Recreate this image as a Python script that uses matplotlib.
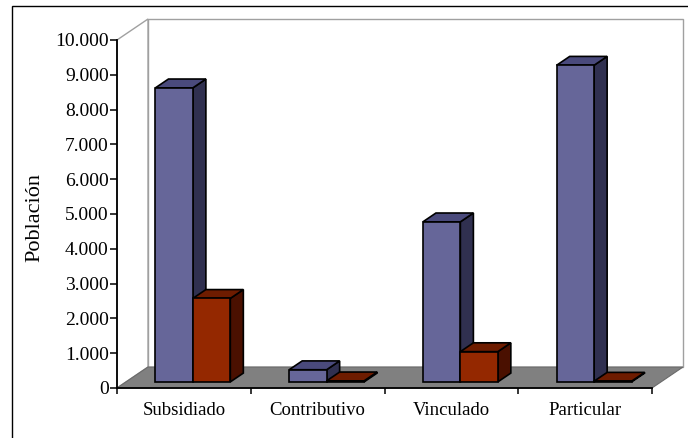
import matplotlib
matplotlib.use("Agg")
import matplotlib.pyplot as plt
from matplotlib.patches import Polygon, Rectangle
from matplotlib.ticker import FuncFormatter, FixedLocator

# ---- data ----
categories = ["Subsidiado", "Contributivo", "Vinculado", "Particular"]
serie_azul = [8450, 350, 4600, 9100]
serie_roja = [2400, 30, 870, 20]
y_ticks = [0, 1000, 2000, 3000, 4000, 5000, 6000, 7000, 8000, 9000, 10000]
y_label = "Población"

# ---- style ----
FONT = "Liberation Serif"
W, H = 688, 438
fig = plt.figure(figsize=(W / 100, H / 100), dpi=100)
fig.patch.set_facecolor("white")

# front plane of the 3D plot (pixel box 117..652 x, 40..388 y)
x0p, x1p, y0p, y1p = 117, 652, 40, 388
ax = fig.add_axes([x0p / W, 1 - y1p / H, (x1p - x0p) / W, (y1p - y0p) / H])
ax.set_xlim(0, len(categories))
ax.set_ylim(0, 10000)
ax.set_facecolor("none")

# depth offsets (pixels -> data units)
px_x = (x1p - x0p) / len(categories)
px_y = (y1p - y0p) / 10000
DX = 31 / px_x
DY = 21 / px_y

wall_edge = "#a0a0a0"
# back wall
ax.add_patch(Polygon([(DX, DY), (len(categories) + DX, DY),
                      (len(categories) + DX, 10000 + DY), (DX, 10000 + DY)],
                     closed=True, facecolor="white", edgecolor=wall_edge,
                     lw=1.0, clip_on=False, zorder=0))
# left wall
ax.add_patch(Polygon([(0, 0), (DX, DY), (DX, 10000 + DY), (0, 10000)],
                     closed=True, facecolor="white", edgecolor=wall_edge,
                     lw=1.0, clip_on=False, zorder=0.5))
# floor
ax.add_patch(Polygon([(0, 0), (len(categories), 0),
                      (len(categories) + DX, DY), (DX, DY)],
                     closed=True, facecolor="#808080", edgecolor="#6a6a6a",
                     lw=0.8, clip_on=False, zorder=1))

bar_w = 0.28
d0, d1 = 0.29, 0.71


def bar3d(xl, v, front, top, side):
    xr = xl + bar_w
    fx0, fy0 = d0 * DX, d0 * DY
    bx, by = d1 * DX, d1 * DY
    kw = dict(closed=True, edgecolor="black", lw=1.2, clip_on=False, zorder=3,
              joinstyle="miter")
    ax.add_patch(Polygon([(xr + fx0, fy0), (xr + bx, by), (xr + bx, v + by),
                          (xr + fx0, v + fy0)], facecolor=side, **kw))
    ax.add_patch(Polygon([(xl + fx0, v + fy0), (xr + fx0, v + fy0),
                          (xr + bx, v + by), (xl + bx, v + by)], facecolor=top, **kw))
    ax.add_patch(Polygon([(xl + fx0, fy0), (xr + fx0, fy0), (xr + fx0, v + fy0),
                          (xl + fx0, v + fy0)], facecolor=front, **kw))


for i, (b, r) in enumerate(zip(serie_azul, serie_roja)):
    c = i + 0.5
    bar3d(c - bar_w, b, "#666699", "#4a4a7c", "#303050")
    bar3d(c, r, "#942800", "#6e1c00", "#4a1000")

# axes / ticks
for s in ["top", "right"]:
    ax.spines[s].set_visible(False)
for s in ["left", "bottom"]:
    ax.spines[s].set_color("black")
    ax.spines[s].set_linewidth(1.3)
    ax.spines[s].set_zorder(5)

ax.set_yticks(y_ticks)
ax.yaxis.set_major_formatter(FuncFormatter(lambda v, p: f"{int(v):,}".replace(",", ".")))
ax.tick_params(axis="y", direction="out", length=5, width=1.1, pad=1,
               labelsize=14, colors="black")
ax.xaxis.set_major_locator(FixedLocator(list(range(len(categories) + 1))))
ax.xaxis.set_minor_locator(FixedLocator([i + 0.5 for i in range(len(categories))]))
ax.xaxis.set_major_formatter(FuncFormatter(lambda v, p: ""))
ax.set_xticklabels(categories, minor=True)
ax.tick_params(axis="x", which="major", direction="out", length=4, width=1.1)
ax.tick_params(axis="x", which="minor", length=0, pad=10, labelsize=13.5)
for lab in ax.get_yticklabels() + ax.get_xticklabels(minor=True):
    lab.set_fontfamily(FONT)

ax.set_ylabel(y_label, fontfamily=FONT, fontsize=16)
ax.yaxis.set_label_coords(-0.136, 0.49)

# outer border (cropped at right and bottom)
fig.add_artist(Rectangle((12 / W, -0.2), 1.3, 1.2 - 6 / H, transform=fig.transFigure,
                         fill=False, edgecolor="black", lw=1.0))

fig.savefig("out.png", dpi=100)
